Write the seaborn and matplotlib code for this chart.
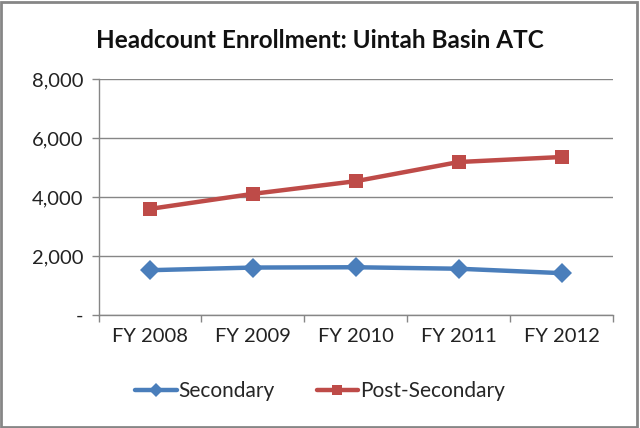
import pandas as pd
import seaborn as sns
import matplotlib.pyplot as plt
from matplotlib.patches import Rectangle
from matplotlib.ticker import FuncFormatter

years = ['FY 2008', 'FY 2009', 'FY 2010', 'FY 2011', 'FY 2012']
secondary = [1520, 1610, 1620, 1570, 1420]
post_secondary = [3600, 4110, 4540, 5190, 5360]
y_ticks = [0, 2000, 4000, 6000, 8000]

df = pd.DataFrame({
    'year': years * 2,
    'count': secondary + post_secondary,
    'level': ['Secondary'] * 5 + ['Post-Secondary'] * 5,
})

sns.set_style('white')
plt.rcParams['font.family'] = ['Lato', 'DejaVu Sans']

fig = plt.figure(figsize=(6.4, 4.28), dpi=100)
ax = fig.add_axes([0.154, 0.264, 0.804, 0.551])

sns.lineplot(data=df, x='year', y='count', hue='level', style='level',
             markers={'Secondary': 'D', 'Post-Secondary': 's'}, dashes=False,
             palette={'Secondary': '#4a7ebb', 'Post-Secondary': '#be4b48'},
             linewidth=3.2, markersize=10, markeredgewidth=0, ax=ax, sort=False)

ax.set_xlim(-0.5, 4.5)
ax.set_ylim(0, 8000)
ax.set_yticks(y_ticks)
ax.yaxis.set_major_formatter(FuncFormatter(lambda v, p: '-' if v == 0 else f'{int(v):,}'))
ax.set_xticks([i - 0.5 for i in range(6)], minor=True)
ax.tick_params(axis='x', which='major', length=0, labelsize=14.5, pad=9, colors='#222222')
ax.tick_params(axis='x', which='minor', length=5, width=1, color='#868686', direction='out', bottom=True)
ax.tick_params(axis='y', length=5, width=1, color='#868686', direction='out', left=True,
               labelsize=14.5, pad=6, labelcolor='#222222')
ax.grid(axis='y', color='#868686', linewidth=1)
for s in ['top', 'right']:
    ax.spines[s].set_visible(False)
for s in ['left', 'bottom']:
    ax.spines[s].set_color('#868686')
    ax.spines[s].set_linewidth(1)
ax.set_xlabel('')
ax.set_ylabel('')

handles, labels = ax.get_legend_handles_labels()
for h in handles:
    h.set_markersize(7)
ax.legend(handles, labels, loc='center', bbox_to_anchor=(0.5, (428 - 391) / 428),
          bbox_transform=fig.transFigure, ncol=2, frameon=False, fontsize=15,
          handlelength=2.0, columnspacing=2.0, handletextpad=0.1)

fig.text(0.5, (428 - 40) / 428, 'Headcount Enrollment: Uintah Basin ATC', ha='center', va='center',
         fontsize=17.5, fontweight='bold', color='#111111')
fig.patches.append(Rectangle((0.002, 0.003), 0.994, 0.992, transform=fig.transFigure,
                             fill=False, edgecolor='#868686', linewidth=2))

fig.savefig('out.png', dpi=100)
